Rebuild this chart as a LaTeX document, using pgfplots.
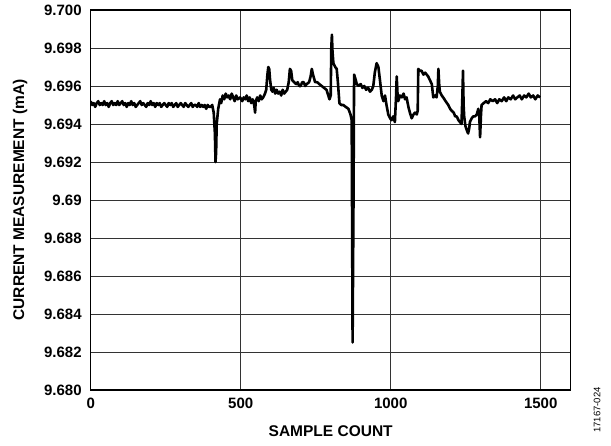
\documentclass[border=0pt]{standalone}
\usepackage{pgfplots}
\pgfplotsset{compat=1.18}
\usepackage{fontspec}
\setmainfont{Liberation Sans}
\begin{document}
\begin{tikzpicture}
\begin{axis}[
  scale only axis,
  width=480pt, height=380pt,
  xmin=0, xmax=1600, ymin=9.680, ymax=9.700,
  xtick={0,500,1000,1500},
  xticklabels={0,500,1000,1500},
  ytick={9.680,9.682,9.684,9.686,9.688,9.690,9.692,9.694,9.696,9.698,9.700},
  yticklabels={9.680,9.682,9.684,9.686,9.688,9.69,9.692,9.694,9.696,9.698,9.700},
  major tick length=0pt,
  grid=major,
  major grid style={line width=0.8pt, black!80},
  axis line style={line width=1.3pt, black},
  tick label style={font=\fontsize{15}{17}\selectfont\bfseries},
  yticklabel style={xshift=-5.5pt},
  xticklabel style={yshift=-5pt},
  xlabel={SAMPLE COUNT},
  ylabel={CURRENT MEASUREMENT (mA)},
  label style={font=\fontsize{15.5}{17}\selectfont\bfseries},
  xlabel style={at={(rel axis cs:0.5,-0.108)}, anchor=center},
  ylabel style={at={(rel axis cs:-0.147,0.5)}, anchor=center},
  clip=true,
]
\addplot[black, line width=2.6pt, line join=round] coordinates {
(0,9.6952)(5,9.6950)(10,9.6951)(15,9.6949)(20,9.6951)(25,9.6952)(30,9.6950)(35,9.6951)(40,9.6950)(45,9.6952)
(50,9.6950)(55,9.6951)(60,9.6949)(65,9.6951)(70,9.6952)(75,9.6950)(80,9.6951)(85,9.6950)(90,9.6952)(95,9.6950)
(100,9.6951)(105,9.6952)(110,9.6950)(115,9.6951)(120,9.6949)(125,9.6951)(130,9.6950)(135,9.6952)(140,9.6950)
(145,9.6951)(150,9.6949)(155,9.6950)(160,9.6951)(165,9.6952)(170,9.6950)(175,9.6951)(180,9.6950)(185,9.6949)
(190,9.6951)(195,9.6950)(200,9.6952)(205,9.6950)(210,9.6951)(215,9.6949)(220,9.6951)(225,9.6950)(230,9.6951)
(235,9.6949)(240,9.6950)(245,9.6951)(250,9.6950)(255,9.6949)(260,9.6951)(265,9.6950)(270,9.6951)(275,9.6949)
(280,9.6950)(285,9.6951)(290,9.6949)(295,9.6950)(300,9.6951)(305,9.6950)(310,9.6949)(315,9.6951)(320,9.6950)
(325,9.6949)(330,9.6950)(335,9.6951)(340,9.6949)(345,9.6950)(350,9.6950)(355,9.6949)(360,9.6951)(365,9.6949)
(370,9.6950)(375,9.6949)(380,9.6950)(385,9.6948)(390,9.6950)(395,9.6949)(400,9.6949)(405,9.6950)(410,9.6946)
(414,9.6935)(416,9.6920)(418,9.6925)(420,9.6940)(425,9.6948)
(431,9.6953)(435,9.6951)(440,9.6955)(445,9.6953)(450,9.6956)(455,9.6954)(460,9.6955)
(465,9.6953)(470,9.6956)(475,9.6954)(480,9.6952)(485,9.6955)(490,9.6953)(498,9.6954)
(505,9.6952)(510,9.6954)(515,9.6953)(520,9.6955)(525,9.6952)(530,9.6954)(535,9.6951)
(540,9.6953)(545,9.6950)(548,9.6946)(550,9.6952)(555,9.6954)(560,9.6952)(565,9.6955)
(570,9.6953)(575,9.6954)(581,9.6956)(585,9.6958)(589,9.6966)(592,9.6970)(595,9.6969)
(598,9.6963)(602,9.6958)(606,9.6957)(610,9.6959)(615,9.6956)(620,9.6958)(625,9.6956)
(630,9.6957)(635,9.6955)(640,9.6958)(645,9.6956)(650,9.6957)(655,9.6958)(660,9.6962)
(664,9.6969)(668,9.6968)(672,9.6963)(678,9.6962)(685,9.6961)(690,9.6962)(695,9.6960)(700,9.6960)
(705,9.6962)(710,9.6962)(715,9.6960)(720,9.6961)(728,9.6962)(733,9.6965)(737,9.6969)(741,9.6966)(748,9.6962)
(755,9.6962)(762,9.6961)(770,9.6960)(778,9.6959)(786,9.6958)(792,9.6955)(796,9.6953)
(800,9.6955)(802,9.6980)(804,9.6987)(806,9.6978)(809,9.6972)(815,9.6970)(820,9.6969)
(824,9.6962)(829,9.6951)(835,9.6950)(842,9.6950)(850,9.6949)(859,9.6948)(866,9.6945)
(870,9.6942)(873,9.6825)(876,9.6900)(878,9.6966)(882,9.6964)(887,9.6961)(893,9.6960)
(900,9.6961)(906,9.6959)(912,9.6960)(918,9.6958)(925,9.6959)(931,9.6957)(937,9.6958)
(942,9.6960)(947,9.6967)(953,9.6972)(959,9.6970)(965,9.6962)(970,9.6955)(976,9.6952)
(981,9.6955)(986,9.6950)(992,9.6945)(998,9.6943)(1003,9.6942)(1008,9.6944)(1014,9.6941)
(1018,9.6955)(1020,9.6965)(1023,9.6955)(1025,9.6952)(1031,9.6955)(1037,9.6954)
(1043,9.6956)(1048,9.6953)(1053,9.6954)(1059,9.6949)(1064,9.6946)(1070,9.6943)
(1076,9.6945)(1081,9.6946)(1087,9.6945)(1090,9.6947)(1092,9.6969)(1097,9.6968)
(1103,9.6968)(1109,9.6966)(1115,9.6967)(1120,9.6966)(1125,9.6965)(1131,9.6963)
(1137,9.6961)(1142,9.6954)(1148,9.6955)(1153,9.6954)(1157,9.6960)(1159,9.6969)
(1162,9.6960)(1164,9.6957)(1170,9.6955)(1175,9.6954)(1183,9.6952)(1192,9.6950)
(1198,9.6948)(1203,9.6947)(1210,9.6946)(1215,9.6944)(1220,9.6944)(1226,9.6942)
(1231,9.6941)(1236,9.6940)(1239,9.6955)(1241,9.6968)(1243,9.6950)(1245,9.6944)
(1249,9.6939)(1253,9.6937)(1258,9.6935)(1262,9.6938)(1264,9.6941)(1270,9.6943)
(1275,9.6944)(1281,9.6944)(1287,9.6945)(1292,9.6948)(1295,9.6945)(1298,9.6933)
(1301,9.6945)(1303,9.6950)(1310,9.6951)(1318,9.6952)(1325,9.6951)(1332,9.6953)(1340,9.6952)
(1348,9.6953)(1355,9.6951)(1362,9.6953)(1370,9.6952)(1378,9.6954)(1385,9.6952)(1392,9.6954)
(1400,9.6953)(1408,9.6955)(1415,9.6953)(1422,9.6954)(1430,9.6955)(1437,9.6953)(1445,9.6955)
(1452,9.6954)(1460,9.6956)(1467,9.6954)(1475,9.6955)(1482,9.6953)(1490,9.6955)(1498,9.6954)
};
\coordinate (bl) at (rel axis cs:-0.189,-0.147);
\coordinate (tr) at (rel axis cs:1.084,1.0263);
\coordinate (code) at (rel axis cs:1.0548,-0.0526);
\end{axis}
\node[rotate=90, anchor=center, font=\fontsize{9.5}{11}\selectfont] at (code) {17167-024};
\pgfresetboundingbox
\path (bl) rectangle (tr);
\end{tikzpicture}
\end{document}
